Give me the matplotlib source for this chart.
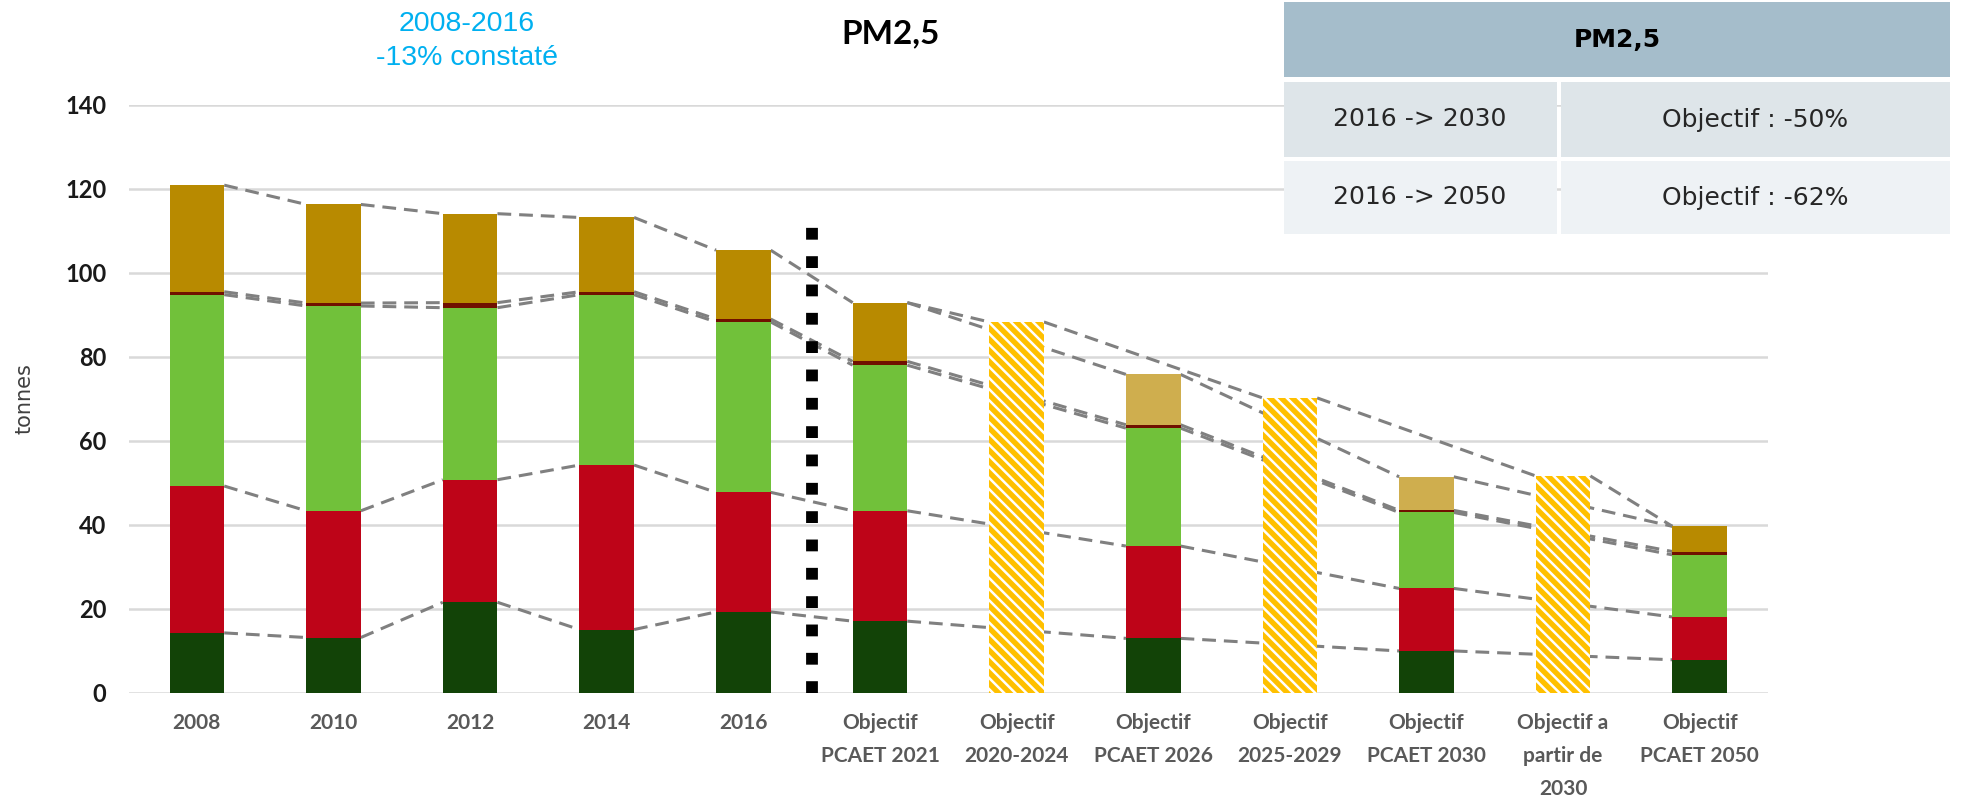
import numpy as np
import matplotlib
matplotlib.use("Agg")
import matplotlib.pyplot as plt
from matplotlib.patches import Rectangle

# Categories (x axis)
categories = ["2008", "2010", "2012", "2014", "2016",
              "Objectif\nPCAET 2021", "Objectif\n2020-2024", "Objectif\nPCAET 2026",
              "Objectif\n2025-2029", "Objectif\nPCAET 2030", "Objectif a\npartir de\n2030",
              "Objectif\nPCAET 2050"]

# Stacked segments (tonnes), 0 where the column is a hatched target
dark_green = [14.2, 13.1, 21.5, 15.0, 19.2, 17.0, 0, 12.9, 0, 9.9, 0, 7.8]
red = [35.0, 30.2, 29.2, 39.2, 28.5, 26.3, 0, 22.0, 0, 14.9, 0, 10.2]
light_green = [45.6, 48.8, 41.0, 40.6, 40.6, 34.7, 0, 28.1, 0, 18.1, 0, 14.8]
dark_red = [0.7, 0.7, 1.2, 0.7, 0.7, 0.9, 0, 0.8, 0, 0.5, 0, 0.8]
brown = [25.4, 23.5, 21.2, 17.7, 16.4, 14.0, 0, 12.0, 0, 8.0, 0, 6.0]
# Hatched objective columns
targets = [0, 0, 0, 0, 0, 0, 88.3, 0, 70.2, 0, 51.6, 0]

yticks = [0, 20, 40, 60, 80, 100, 120, 140]
table_rows = [["2016 -> 2030", "Objectif : -50%"],
              ["2016 -> 2050", "Objectif : -62%"]]

seg_colors = ["#124307", "#BE0418", "#71C13A", "#701000", "#B88A00"]
brown_colors = ["#B88A00"] * 12
brown_colors[7] = "#CFAE4E"
brown_colors[9] = "#CFAE4E"

plt.rcParams["hatch.linewidth"] = 1.8

W, H = 1961, 805
fig = plt.figure(figsize=(W / 100, H / 100), dpi=100)
ax = fig.add_axes([128.6 / W, 1 - 692.5 / H, (1768 - 128.6) / W, (692.5 - 105) / H])

x = np.arange(len(categories))
bw = 0.40
segments = [dark_green, red, light_green, dark_red, brown]

# stacked bars
bottom = np.zeros(len(categories))
for i, seg in enumerate(segments):
    cols = brown_colors if i == 4 else seg_colors[i]
    ax.bar(x, seg, bw, bottom=bottom, color=cols, linewidth=0, zorder=4)
    bottom = bottom + np.array(seg)

# hatched target bars
ax.bar(x, targets, bw, color="#FFC000", edgecolor="white", hatch="\\\\\\",
       linewidth=0, zorder=4)

# dashed series lines between real columns
real = [i for i in range(len(categories)) if targets[i] == 0]
levels = np.cumsum(np.array(segments), axis=0)
for lev in levels:
    for a, b in zip(real[:-1], real[1:]):
        ax.plot([a + bw / 2, b - bw / 2], [lev[a], lev[b]], color="#808080",
                lw=2.2, linestyle=(0, (4.5, 2.6)), zorder=3)

# dashed line linking the targets
tgt = [i for i in range(len(categories)) if targets[i] > 0]
chain = [tgt[0] - 1] + tgt + [tgt[-1] + 1]
tops = [targets[i] if targets[i] > 0 else levels[-1][i] for i in chain]
for k in range(len(chain) - 1):
    ax.plot([chain[k] + bw / 2, chain[k + 1] - bw / 2], [tops[k], tops[k + 1]],
            color="#808080", lw=2.2, linestyle=(0, (4.5, 2.6)), zorder=3)

# dotted separator
ax.plot([4.5, 4.5], [0, 112], color="black", lw=8.5, linestyle=(0, (1, 1.4)),
        dash_capstyle="butt", zorder=3.5)

ax.set_xlim(-0.5, len(categories) - 0.5)
ax.set_ylim(0, 140)
ax.set_yticks(yticks)
ax.set_xticks(x)
ax.set_xticklabels(categories, fontsize=15, fontweight="bold", color="#595959",
                   family="Lato", linespacing=1.8)
ax.set_yticklabels([str(v) for v in yticks], fontsize=17, fontweight="bold",
                   color="#1a1a1a", family="Lato")
ax.tick_params(axis="both", length=0)
ax.tick_params(axis="x", pad=15)
ax.tick_params(axis="y", pad=16)
ax.grid(axis="y", color="#D9D9D9", lw=1.8, zorder=0)
ax.set_axisbelow(True)
for s in ax.spines.values():
    s.set_visible(False)
ax.set_ylabel("tonnes", fontsize=15, color="#404040", family="DejaVu Sans", labelpad=22)

# titles
fig.text(891 / W, 1 - 34 / H, "PM2,5", ha="center", va="center", fontsize=24,
         fontweight="bold", family="Lato", color="black")
fig.text(467 / W, 1 - 41 / H, "2008-2016\n-13% constaté", ha="center", va="center",
         fontsize=20.5, family="Liberation Sans", color="#00B0F0", linespacing=1.4)

# summary table, top right
def box(x0, y0, x1, y1, c):
    fig.add_artist(Rectangle((x0 / W, 1 - y1 / H), (x1 - x0) / W, (y1 - y0) / H,
                             transform=fig.transFigure, color=c, lw=0))

box(1284, 2, 1950, 77, "#A5BDCB")
fig.text(1617 / W, 1 - 40 / H, "PM2,5", ha="center", va="center", fontsize=18,
         fontweight="bold", family="DejaVu Sans", color="black")
row_y = [(82, 157), (161, 234)]
row_c = ["#DEE5E9", "#EEF2F5"]
for (y0, y1), c, row in zip(row_y, row_c, table_rows):
    box(1284, y0, 1557, y1, c)
    box(1561, y0, 1950, y1, c)
    fig.text(1420 / W, 1 - (y0 + y1) / 2 / H, row[0], ha="center", va="center",
             fontsize=18, family="DejaVu Sans", color="#262626")
    fig.text(1755 / W, 1 - (y0 + y1) / 2 / H, row[1], ha="center", va="center",
             fontsize=18, family="DejaVu Sans", color="#262626")

fig.savefig("out.png", dpi=100)
